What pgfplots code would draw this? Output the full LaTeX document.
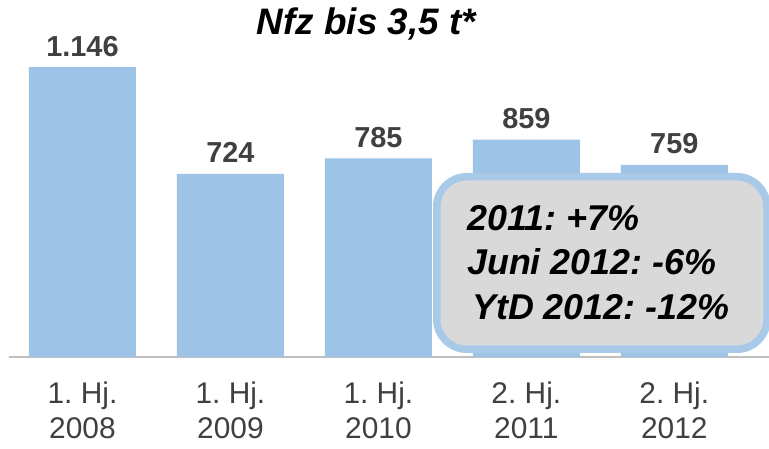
\documentclass[border=0pt]{standalone}
\usepackage{fontspec}
\setmainfont{Liberation Sans}
\usepackage{pgfplots}
\pgfplotsset{compat=1.18}
\usepackage{pgfplotstable}
\frenchspacing
\definecolor{barblue}{HTML}{9DC3E6}
\definecolor{boxborder}{HTML}{A9C9E9}
\definecolor{boxfill}{HTML}{D9D9D9}
\definecolor{labgray}{HTML}{404040}
\definecolor{axgray}{HTML}{BFBFBF}
\pgfplotstableread{
x y lab
0 1146 1.146
1 724 724
2 785 785
3 859 859
4 759 759
}\datatbl
\begin{document}
\begin{tikzpicture}
\useasboundingbox (0bp,0bp) rectangle (769bp,449bp);
\begin{axis}[
  at={(8.5bp,92bp)}, anchor=south west,
  scale only axis, width=760.5bp, height=328.9bp,
  xmin=-0.5, xmax=4.64, ymin=0, ymax=1300,
  axis x line=bottom, axis y line=none,
  x axis line style={axgray, line width=1.5bp, -},
  xtick={0,1,2,3,4}, major tick length=0pt,
  xticklabels={{1. Hj.\\2008},{1. Hj.\\2009},{1. Hj.\\2010},{2. Hj.\\2011},{2. Hj.\\2012}},
  x tick label style={align=center, font=\fontsize{30}{35}\selectfont\frenchspacing, text=labgray, anchor=north, inner sep=0pt, yshift=-25bp},
  ytick=\empty,
  clip=false,
]
\addplot[ybar, bar width=107bp, fill=barblue, draw=none,
  point meta=explicit symbolic,
  nodes near coords,
  every node near coord/.append style={anchor=base, yshift=11bp, font=\fontsize{29}{33}\selectfont\bfseries, text=labgray}
] table[x=x, y=y, meta=lab] {\datatbl};
\end{axis}
\node[anchor=base, font=\fontsize{37}{40}\selectfont\bfseries\itshape] at (366.5bp,414bp) {Nfz bis 3,5 t*};
\draw[line width=7.5bp, draw=boxborder, fill=boxfill, rounded corners=30bp] (436.75bp,99.75bp) rectangle (767bp,272.25bp);
\begin{scope}[every node/.style={anchor=base west, inner sep=0pt, font=\fontsize{36}{40}\selectfont\bfseries\itshape\frenchspacing}]
\node at (467bp,218bp) {2011: +7\%};
\node at (467bp,174bp) {Juni 2012: -6\%};
\node at (472bp,129bp) {YtD 2012: -12\%};
\end{scope}
\end{tikzpicture}
\end{document}
